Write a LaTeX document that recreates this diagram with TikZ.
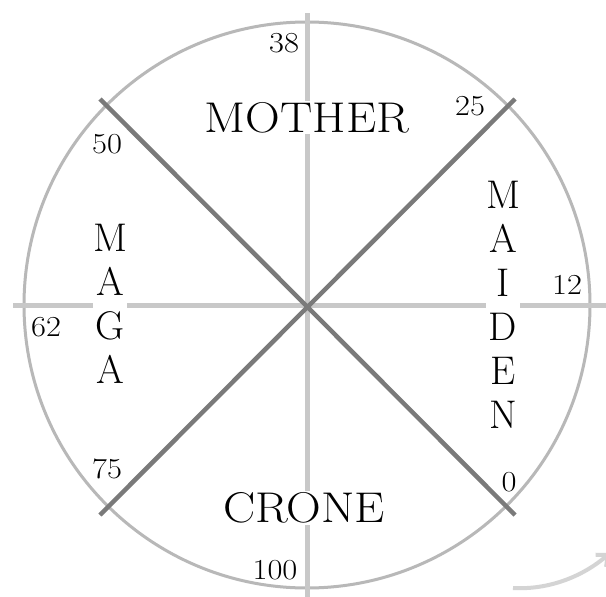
\documentclass[tikz,border=0pt]{standalone}
\usetikzlibrary{arrows.meta}
\definecolor{ringgray}{HTML}{B8B8B8}
\definecolor{axisgray}{HTML}{C8C8C8}
\definecolor{diaggray}{HTML}{7A7A7A}
\definecolor{arrowgray}{HTML}{D4D4D4}
\newcommand{\widetext}[1]{\scalebox{1.12}[1]{#1}}
\newcommand{\widenum}[1]{\scalebox{1.12}[1]{#1}}
\begin{document}
\begin{tikzpicture}[x=1pt,y=-1pt,
  ring/.style={draw=ringgray,line width=3pt},
  axisline/.style={draw=axisgray,line width=5pt},
  diagline/.style={draw=diaggray,line width=4.5pt},
  word/.style={fill=white,inner sep=1.5pt,font=\fontsize{43}{43}\selectfont},
  column/.style={fill=white,inner sep=0pt,align=center,font=\fontsize{40}{44}\selectfont},
  num/.style={font=\fontsize{29}{29}\selectfont,inner sep=0pt}]
\clip (0,0) rectangle (606,597);
\fill[white] (0,0) rectangle (606,597);
\coordinate (c) at (307,305);
\draw[ring] (c) circle[radius=283];
% axes
\coordinate (vtop) at (307,13);
\coordinate (vbot) at (307,600);
\coordinate (hleft) at (13,305);
\coordinate (hright) at (610,305);
\draw[axisline] (vtop) -- (vbot);
\draw[axisline] (hleft) -- (hright);
% diagonals
\coordinate (d1) at (100,99);
\coordinate (d2) at (515,515);
\coordinate (d3) at (515,99);
\coordinate (d4) at (100,515);
\draw[diagline] (d1) -- (d2);
\draw[diagline] (d3) -- (d4);
% words
\node[word] (mother) at (307,117.5) {\widetext{MOTHER}};
\node[word] (crone) at (304,508) {\widetext{CRONE}};
\node[column] (maga) at (110,304) {M\\A\\G\\A};
\node[column] (maiden) at (503,304.5) {M\\A\\I\\D\\E\\N};
% numbers
\node[num] (n38) at (284,43) {\widenum{38}};
\node[num] (n25) at (470,106) {\widenum{25}};
\node[num] (n50) at (107,144) {\widenum{50}};
\node[num] (n12) at (567,285) {\widenum{12}};
\node[num] (n62) at (46,327) {\widenum{62}};
\node[num] (n75) at (107,469) {\widenum{75}};
\node[num] (n0) at (509,482) {\widenum{0}};
\node[num] (n100) at (275,570) {\widenum{100}};
% direction arrow
\coordinate (astart) at (513,588);
\coordinate (aend) at (610,553);
\draw[draw=arrowgray,line width=4pt,-{Straight Barb[length=9pt,width=16pt]}]
  (astart) .. controls (548,590) and (582,577) .. (aend);
\end{tikzpicture}
\end{document}
